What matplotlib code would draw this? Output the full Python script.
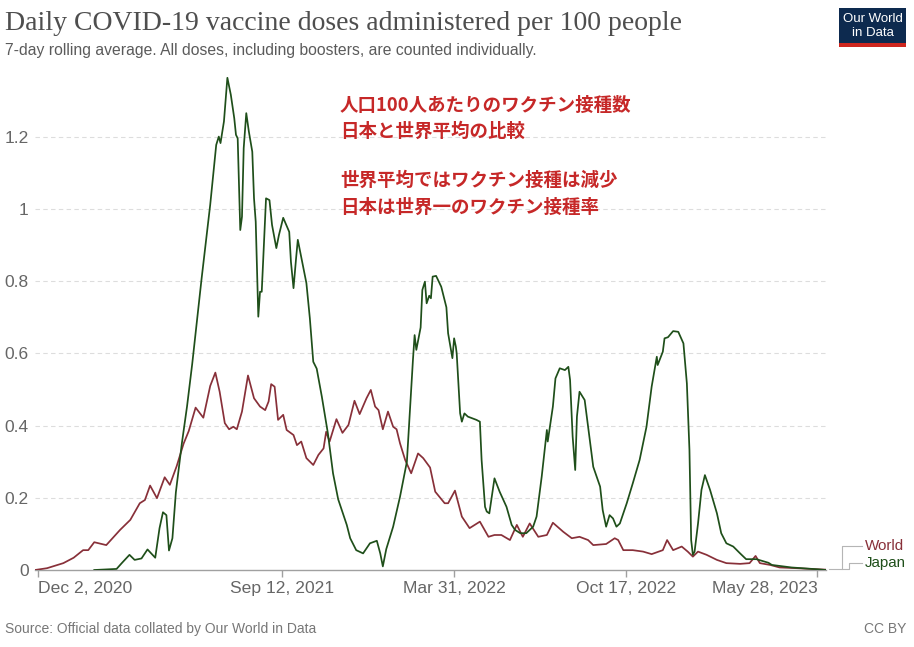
import numpy as np
import matplotlib
matplotlib.use("Agg")
import matplotlib.pyplot as plt
from matplotlib.lines import Line2D
from matplotlib.patches import Rectangle

# days since 2020-12-02, values = doses per 100 people (7-day avg)
START = np.datetime64("2020-12-02")

world_day = [-4, 10, 29, 41, 52, 58, 65, 79, 95, 107, 118, 124, 130, 138, 147, 153,
             161, 169, 175, 183, 192, 200, 206, 211, 217, 222, 227, 231, 237, 244,
             251, 258, 264, 268, 271, 275, 279, 285, 289, 297, 301, 306, 312, 320,
             326, 332, 335, 339, 347, 354, 361, 368, 374, 382, 387, 392, 396, 401,
             407, 413, 417, 421, 427, 434, 442, 448, 456, 462, 473, 477, 485, 493,
             502, 514, 524, 531, 539, 549, 557, 564, 572, 582, 592, 599, 611, 621,
             630, 640, 646, 661, 671, 675, 681, 692, 704, 714, 727, 732, 739, 749,
             756, 762, 768, 778, 790, 801, 817, 828, 835, 840, 852, 863, 883, 907, 917]
world_val = [0.0, 0.005, 0.019, 0.034, 0.055, 0.055, 0.077, 0.069, 0.111, 0.139, 0.185,
             0.194, 0.234, 0.199, 0.257, 0.236, 0.288, 0.350, 0.385, 0.450, 0.422, 0.510,
             0.547, 0.494, 0.407, 0.390, 0.397, 0.390, 0.439, 0.539, 0.476, 0.453, 0.443,
             0.467, 0.515, 0.508, 0.416, 0.430, 0.388, 0.374, 0.346, 0.356, 0.310, 0.291,
             0.319, 0.337, 0.383, 0.356, 0.418, 0.380, 0.402, 0.469, 0.432, 0.476, 0.499,
             0.453, 0.443, 0.390, 0.439, 0.397, 0.390, 0.351, 0.305, 0.268, 0.323, 0.310,
             0.284, 0.217, 0.185, 0.185, 0.220, 0.148, 0.116, 0.134, 0.092, 0.097, 0.097,
             0.083, 0.125, 0.092, 0.129, 0.092, 0.097, 0.131, 0.106, 0.088, 0.092, 0.083,
             0.069, 0.072, 0.088, 0.083, 0.055, 0.055, 0.051, 0.044, 0.055, 0.083, 0.055,
             0.065, 0.051, 0.037, 0.051, 0.042, 0.028, 0.019, 0.017, 0.019, 0.039, 0.019,
             0.014, 0.007, 0.005, 0.002, 0.001]

japan_day = [65, 91, 97, 106, 112, 120, 127, 136, 141, 145, 149, 152, 156, 160, 167,
             173, 179, 190, 200, 207, 210, 212, 216, 220, 224, 228, 230, 232, 235, 237,
             239, 242, 245, 249, 251, 253, 256, 258, 260, 265, 269, 272, 277, 280, 285,
             292, 294, 297, 300, 302, 312, 316, 320, 324, 330, 337, 343, 349, 359, 363,
             370, 378, 386, 394, 398, 401, 405, 413, 421, 429, 432, 436, 438, 440, 445,
             447, 450, 452, 455, 457, 459, 463, 469, 475, 477, 482, 484, 486, 487, 491,
             493, 496, 500, 510, 514, 516, 520, 522, 525, 531, 537, 545, 551, 555, 561,
             568, 576, 580, 586, 592, 593, 599, 602, 607, 613, 617, 619, 622, 625, 627,
             630, 636, 642, 646, 654, 657, 661, 665, 669, 673, 677, 685, 692, 700, 708,
             714, 720, 721, 727, 729, 733, 739, 745, 751, 755, 758, 760, 762, 764, 768,
             772, 776, 782, 790, 795, 801, 809, 817, 824, 836, 850, 854, 877, 907, 917]
japan_val = [0.0, 0.003, 0.019, 0.042, 0.028, 0.032, 0.057, 0.034, 0.116, 0.160, 0.152,
             0.054, 0.088, 0.215, 0.351, 0.453, 0.570, 0.808, 1.012, 1.178, 1.201, 1.183,
             1.243, 1.364, 1.317, 1.252, 1.206, 1.196, 0.942, 0.979, 1.169, 1.266, 1.215,
             1.159, 1.030, 0.965, 0.702, 0.771, 0.771, 1.030, 1.025, 0.956, 0.892, 0.928,
             0.976, 0.937, 0.854, 0.781, 0.864, 0.915, 0.795, 0.698, 0.577, 0.558, 0.480,
             0.379, 0.268, 0.196, 0.125, 0.088, 0.055, 0.046, 0.074, 0.081, 0.046, 0.010,
             0.058, 0.120, 0.203, 0.300, 0.420, 0.580, 0.651, 0.610, 0.672, 0.776, 0.799,
             0.739, 0.760, 0.753, 0.813, 0.815, 0.785, 0.728, 0.656, 0.587, 0.642, 0.619,
             0.600, 0.434, 0.411, 0.434, 0.425, 0.416, 0.411, 0.305, 0.175, 0.162, 0.157,
             0.254, 0.217, 0.175, 0.125, 0.111, 0.102, 0.102, 0.120, 0.148, 0.259, 0.388,
             0.356, 0.453, 0.531, 0.559, 0.554, 0.563, 0.527, 0.370, 0.277, 0.425, 0.494,
             0.471, 0.360, 0.286, 0.231, 0.166, 0.120, 0.152, 0.143, 0.120, 0.129, 0.185,
             0.240, 0.305, 0.397, 0.508, 0.591, 0.568, 0.605, 0.642, 0.645, 0.662, 0.660,
             0.628, 0.517, 0.333, 0.083, 0.042, 0.051, 0.129, 0.222, 0.263, 0.222, 0.157,
             0.102, 0.074, 0.065, 0.046, 0.030, 0.030, 0.020, 0.014, 0.007, 0.002, 0.0]

tick_dates = ["2020-12-02", "2021-09-12", "2022-03-31", "2022-10-17", "2023-05-28"]
tick_labels = ["Dec 2, 2020", "Sep 12, 2021", "Mar 31, 2022", "Oct 17, 2022", "May 28, 2023"]
y_ticks = [0, 0.2, 0.4, 0.6, 0.8, 1.0, 1.2]
y_labels = ["0", "0.2", "0.4", "0.6", "0.8", "1", "1.2"]

note_lines = ["人口100人あたりのワクチン接種数", "日本と世界平均の比較", "",
              "世界平均ではワクチン接種は減少", "日本は世界一のワクチン接種率"]

WORLD_C = "#883039"
JAPAN_C = "#1f4f1a"
GREY = "#666666"

W, H = 914, 647
plt.rcParams["font.family"] = ["Liberation Sans", "DejaVu Sans"]

fig = plt.figure(figsize=(W / 100, H / 100), dpi=100)


def fx(px):
    return px / W


def fy(py):
    return 1 - py / H


ax = fig.add_axes([fx(35), fy(570), fx(826) - fx(35), fy(72) - fy(570)])

wd = START + np.array(world_day).astype("timedelta64[D]")
jd = START + np.array(japan_day).astype("timedelta64[D]")
ax.plot(wd, world_val, color=WORLD_C, lw=1.25, zorder=3)
ax.plot(jd, japan_val, color=JAPAN_C, lw=1.25, zorder=4)

ax.set_xlim(START - np.timedelta64(4, "D"), START + np.timedelta64(917, "D"))
ax.set_ylim(0, 1.38)

for s in ["top", "right", "left"]:
    ax.spines[s].set_visible(False)
ax.spines["bottom"].set_color("#a0a0a0")
ax.spines["bottom"].set_linewidth(1.0)

ax.set_yticks(y_ticks)
ax.set_yticklabels(y_labels)
ax.tick_params(axis="y", length=0, pad=4.5, labelsize=12.5, labelcolor=GREY)
for v in y_ticks[1:]:
    ax.axhline(v, color="#dddddd", lw=0.8, ls=(0, (4, 3)), zorder=1)

ax.set_xticks([np.datetime64(d) for d in tick_dates])
ax.set_xticklabels(tick_labels)
ax.tick_params(axis="x", length=5, width=1, color="#a0a0a0", pad=3,
               labelsize=12.6, labelcolor=GREY)
xl = ax.get_xticklabels()
xl[0].set_ha("left")
xl[-1].set_ha("right")

# annotation
fs_note = 13.3
ys = [105, 131.5, 157, 180.5, 207]
for line, y in zip(note_lines, ys):
    if line:
        fig.text(fx(340), fy(y), line, color="#c62828", fontsize=fs_note,
                 fontweight="bold", va="center", ha="left",
                 family=["Noto Sans CJK JP", "DejaVu Sans"])

# series labels with connectors
lc = "#b5b5b5"
fig.add_artist(Line2D([fx(829), fx(842), fx(842), fx(862)],
                      [fy(569), fy(569), fy(546), fy(546)], color=lc, lw=0.8))
fig.add_artist(Line2D([fx(842), fx(849), fx(849), fx(862)],
                      [fy(569), fy(569), fy(563), fy(563)], color=lc, lw=0.8))
fig.text(fx(865), fy(546), "World", color=WORLD_C, fontsize=10.9, va="center")
fig.text(fx(865), fy(563.5), "Japan", color=JAPAN_C, fontsize=10.9, va="center")

# header
fig.text(fx(5), fy(23), "Daily COVID-19 vaccine doses administered per 100 people",
         family="Liberation Serif", fontsize=20, color="#4e4e4e", va="center")
fig.text(fx(5), fy(51), "7-day rolling average. All doses, including boosters, are counted individually.",
         fontsize=11.3, color="#5b5b5b", va="center")

# logo
fig.add_artist(Rectangle((fx(839), fy(46.5)), fx(906) - fx(839), fy(8) - fy(46.5),
                         facecolor="#0d2a4f", edgecolor="none"))
fig.add_artist(Rectangle((fx(839), fy(46.5)), fx(906) - fx(839), fy(42.5) - fy(46.5),
                         facecolor="#ce261e", edgecolor="none"))
fig.text(fx(872.5), fy(19), "Our World", color="white", fontsize=9.5, ha="center", va="center")
fig.text(fx(872.5), fy(33), "in Data", color="white", fontsize=9.5, ha="center", va="center")

# footer
fig.text(fx(5), fy(629), "Source: Official data collated by Our World in Data",
         fontsize=10, color="#777777", va="center")
fig.text(fx(906), fy(629), "CC BY", fontsize=10, color="#777777", va="center", ha="right")

fig.savefig("out.png", dpi=100)
